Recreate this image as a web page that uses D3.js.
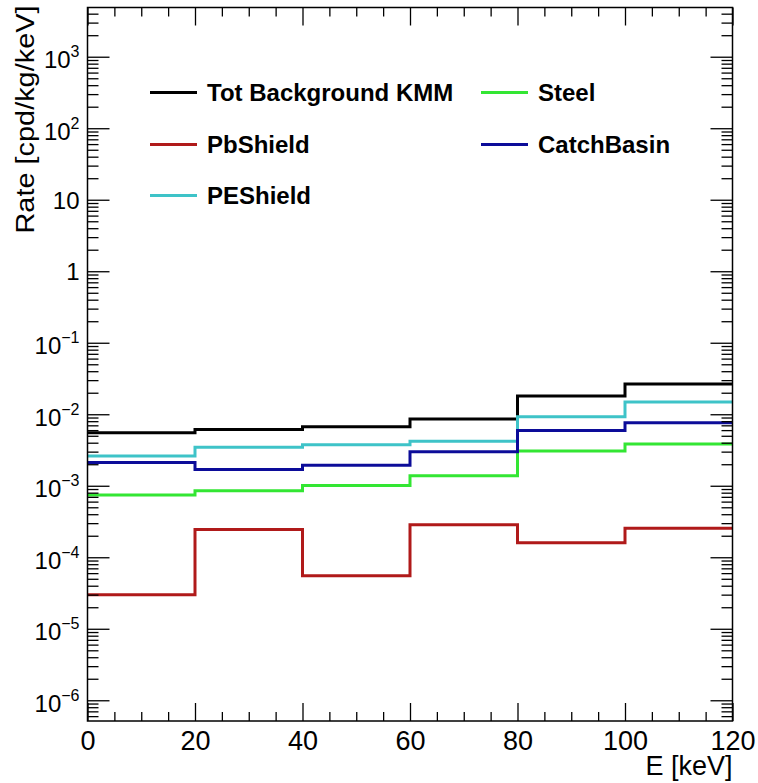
<!DOCTYPE html>
<html>
<head>
<meta charset="utf-8">
<script src="https://cdn.jsdelivr.net/npm/d3@7"></script>
<style>
  body { margin: 0; background: #fff; }
  svg { font-family: "Liberation Sans", Arial, sans-serif; }
</style>
</head>
<body>
<svg id="chart" width="758" height="783"></svg>
<script>
"use strict";

// Bin edges in keV
const binEdges = [0, 20, 40, 60, 80, 100, 120];

// Rates per bin [cpd/kg/keV]
const totBackground = [5.5e-3, 6.1e-3, 6.7e-3, 8.6e-3, 1.8e-2, 2.65e-2];
const pbShield      = [3.0e-5, 2.45e-4, 5.5e-5, 2.85e-4, 1.6e-4, 2.55e-4];
const peShield      = [2.6e-3, 3.45e-3, 3.75e-3, 4.2e-3, 9.2e-3, 1.48e-2];
const steel         = [7.4e-4, 8.5e-4, 1.01e-3, 1.38e-3, 3.06e-3, 3.85e-3];
const catchBasin    = [2.12e-3, 1.69e-3, 1.93e-3, 3.0e-3, 5.95e-3, 7.6e-3];

const seriesNames = ["Tot Background KMM", "PbShield", "PEShield", "Steel", "CatchBasin"];
const seriesColors = ["#000000", "#b01a1a", "#3ec3c8", "#33e633", "#0c0c99"];

// Axis ticks
const xMajorTicks = [0, 20, 40, 60, 80, 100, 120];
const yExponents = [-6, -5, -4, -3, -2, -1, 0, 1, 2, 3];

const svg = d3.select("#chart");
const plotLeft = 87.5, plotRight = 732.5, plotTop = 7.5, plotBottom = 721;

const x = d3.scaleLinear().domain([0, 120]).range([plotLeft, plotRight]);
const y = d3.scaleLog().domain([5.13e-7, 4.88e3]).range([plotBottom, plotTop]);

// minor ticks: x every 5, y at 2..9 per decade
const xMinor = d3.range(0, 121, 5).filter(v => v % 20 !== 0);
const yMinor = [];
for (let e = -7; e <= 3; e++) {
    for (let k = 2; k <= 9; k++) {
        const v = k * Math.pow(10, e);
        if (v >= y.domain()[0] && v <= y.domain()[1]) yMinor.push(v);
    }
}
const yMajor = yExponents.map(e => Math.pow(10, e));

// histograms (step lines)
const data = [totBackground, pbShield, peShield, steel, catchBasin];
const line = d3.line()
    .x(d => x(d[0]))
    .y(d => y(d[1]))
    .curve(d3.curveStepAfter);

svg.append("clipPath").attr("id", "plotclip")
    .append("rect").attr("x", plotLeft).attr("y", plotTop)
    .attr("width", plotRight - plotLeft).attr("height", plotBottom - plotTop);

const drawOrder = [0, 1, 2, 3, 4];
svg.append("g").attr("clip-path", "url(#plotclip)")
    .selectAll("path")
    .data(drawOrder)
    .enter().append("path")
    .attr("d", i => line(binEdges.map((e, j) => [e, data[i][Math.min(j, data[i].length - 1)]])))
    .attr("fill", "none")
    .attr("stroke", i => seriesColors[i])
    .attr("stroke-width", 3);

// axes (ticks pointing inward, like ROOT)
function axisGroup(axis, tx, ty) {
    const g = svg.append("g").attr("transform", `translate(${tx},${ty})`).call(axis);
    g.select(".domain").remove();
    g.selectAll("line").attr("stroke", "#000").attr("stroke-width", 1.3);
    return g;
}

// bottom
const xAxisB = axisGroup(d3.axisBottom(x).tickValues(xMajorTicks).tickSizeInner(-18).tickSizeOuter(0)
    .tickFormat(d3.format("d")), 0, plotBottom);
xAxisB.selectAll("text").attr("font-size", 27).attr("fill", "#000")
    .attr("font-family", "Liberation Sans, Arial, sans-serif").attr("dy", 0).attr("y", 29);
axisGroup(d3.axisBottom(x).tickValues(xMinor).tickSizeInner(-9).tickSizeOuter(0).tickFormat(""), 0, plotBottom);
// top
axisGroup(d3.axisTop(x).tickValues(xMajorTicks).tickSizeInner(-18).tickSizeOuter(0).tickFormat(""), 0, plotTop);
axisGroup(d3.axisTop(x).tickValues(xMinor).tickSizeInner(-9).tickSizeOuter(0).tickFormat(""), 0, plotTop);

// left
const yAxisL = axisGroup(d3.axisLeft(y).tickValues(yMajor).tickSizeInner(-22).tickSizeOuter(0)
    .tickFormat(""), plotLeft, 0);
axisGroup(d3.axisLeft(y).tickValues(yMinor).tickSizeInner(-11).tickSizeOuter(0).tickFormat(""), plotLeft, 0);
// right
axisGroup(d3.axisRight(y).tickValues(yMajor).tickSizeInner(-22).tickSizeOuter(0).tickFormat(""), plotRight, 0);
axisGroup(d3.axisRight(y).tickValues(yMinor).tickSizeInner(-11).tickSizeOuter(0).tickFormat(""), plotRight, 0);

// y tick labels with superscript exponents
yAxisL.selectAll(".tick").each(function (d) {
    const e = Math.round(Math.log10(d));
    const t = d3.select(this).select("text")
        .attr("x", -8).attr("dy", 0).attr("y", 8.5)
        .attr("text-anchor", "end").attr("font-size", 24).attr("fill", "#000")
        .attr("font-family", "Liberation Sans, Arial, sans-serif")
        .text(null);
    if (e === 0) { t.text("1"); return; }
    if (e === 1) { t.text("10"); return; }
    t.attr("y", 11);
    t.append("tspan").text("10");
    t.append("tspan").attr("dy", -11).attr("font-size", 16)
        .text(e < 0 ? "\u2212" + (-e) : String(e));
});

// frame
svg.append("rect")
    .attr("x", plotLeft).attr("y", plotTop)
    .attr("width", plotRight - plotLeft).attr("height", plotBottom - plotTop)
    .attr("fill", "none").attr("stroke", "#000").attr("stroke-width", 1.5);

// axis titles
svg.append("text")
    .attr("x", plotRight).attr("y", 775)
    .attr("text-anchor", "end").attr("font-size", 27)
    .text("E [keV]");

svg.append("text")
    .attr("transform", `translate(34,${plotTop - 2}) rotate(-90)`)
    .attr("text-anchor", "end").attr("font-size", 25)
    .attr("textLength", 228).attr("lengthAdjust", "spacingAndGlyphs")
    .text("Rate [cpd/kg/keV]");

// legend: two columns
const legendPos = [
    { lx: 150, ly: 92.5 },
    { lx: 150, ly: 144.5 },
    { lx: 150, ly: 195.5 },
    { lx: 481, ly: 92.5 },
    { lx: 481, ly: 144.5 }
];
const leg = svg.append("g").selectAll("g")
    .data(seriesNames)
    .enter().append("g")
    .attr("transform", (d, i) => `translate(${legendPos[i].lx},${legendPos[i].ly})`);
leg.append("line")
    .attr("x1", 0).attr("x2", 47).attr("y1", 0).attr("y2", 0)
    .attr("stroke", (d, i) => seriesColors[i]).attr("stroke-width", 3);
leg.append("text")
    .attr("x", 57).attr("y", 8)
    .attr("font-size", 24).attr("font-weight", "bold")
    .text(d => d);
</script>
</body>
</html>
